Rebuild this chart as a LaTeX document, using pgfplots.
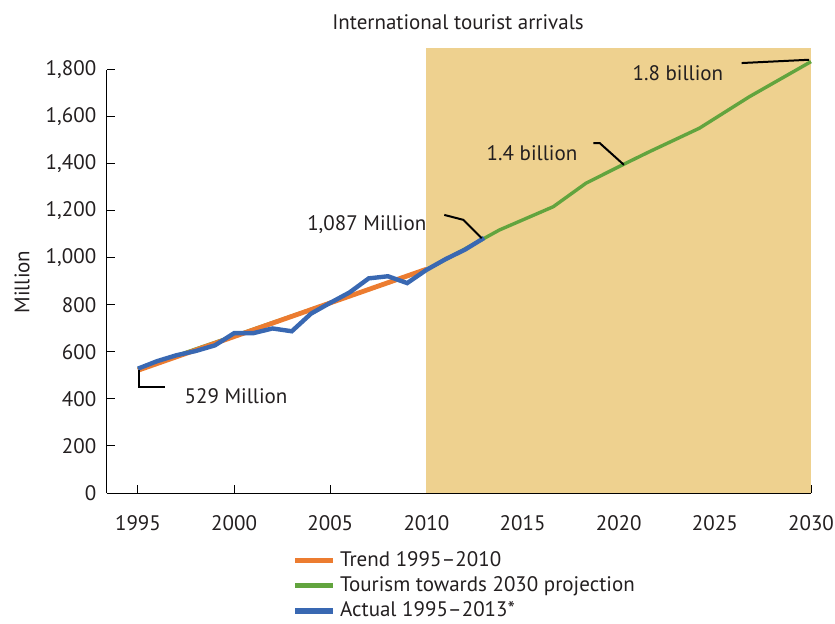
\documentclass[border=0pt]{standalone}
\usepackage{fontspec}
\setmainfont{PT Sans}
\usepackage{pgfplots}
\pgfplotsset{compat=1.18}
\definecolor{tanc}{RGB}{238,209,143}
\definecolor{orangec}{RGB}{236,124,48}
\definecolor{greenc}{RGB}{98,164,62}
\definecolor{bluec}{RGB}{57,104,178}
\definecolor{txt}{RGB}{35,31,32}
\begin{document}
\fontsize{10.5}{12.6}\selectfont
\begin{tikzpicture}[every node/.style={text=txt}]
\begin{axis}[
  scale only axis,
  width=352pt, height=222.5pt,
  xmin=1993.39, xmax=2030, ymin=0, ymax=1893,
  clip=false,
  axis line style={draw=none},
  xtick={1995,2000,...,2030},
  ytick={0,200,...,1800},
  xtick pos=bottom, ytick pos=left,
  tick align=inside,
  major tick length=4pt,
  tick style={black, line width=0.5pt},
  /pgf/number format/assume math mode=true,
  yticklabel style={/pgf/number format/1000 sep={,}, xshift=-1.7pt, font=\fontsize{10.5}{12.6}\selectfont},
  xticklabel style={/pgf/number format/1000 sep={}, yshift=-7.5pt, font=\fontsize{10.5}{12.6}\selectfont},
  legend style={draw=none, fill=none, at={(axis description cs:0.263,-0.121)}, anchor=north west, inner sep=0pt, row sep=-0.4pt, font=\fontsize{10.5}{12.6}\selectfont},
  legend cell align=left,
  legend image code/.code={\draw[#1] (0pt,0pt) -- (19pt,0pt);},
]
\addlegendimage{orangec, line width=2.8pt}
\addlegendentry{Trend 1995--2010}
\addlegendimage{greenc, line width=2.8pt}
\addlegendentry{Tourism towards 2030 projection}
\addlegendimage{bluec, line width=2.8pt}
\addlegendentry{Actual 1995--2013*}

\addplot[draw=none, fill=tanc, forget plot] coordinates {(2010,0) (2010,1893) (2030,1893) (2030,0)} -- cycle;

\addplot[greenc, line width=1.7pt, forget plot] coordinates {
(1995,528) (2010,950) (2011.6,1020) (2013.8,1119) (2016.6,1218) (2018.3,1318)
(2020.2,1396) (2021.6,1452) (2024.2,1552) (2026.8,1686) (2030,1835)};

\addplot[orangec, line width=2.4pt, forget plot] coordinates {(1995,522) (2010,952)};

\addplot[bluec, line width=2.2pt, forget plot] coordinates {
(1995,529) (1996,561) (1997,586) (1998,604) (1999,628) (2000,680) (2001,680)
(2002,700) (2003,688) (2004,763) (2005,809) (2006,853) (2007,913) (2008,922)
(2009,893) (2010,949) (2011,995) (2012,1035) (2013,1085)};

% axis lines
\draw[black, line width=0.5pt] (axis cs:1993.39,0) -- (axis cs:1993.39,1800);
\draw[black, line width=0.5pt] (axis cs:1993.39,0) -- (axis cs:2030,0);

% leader lines
\draw[black, line width=1pt] (axis cs:1995.07,523) -- (axis cs:1995.07,452) -- (axis cs:1996.4,452);
\draw[black, line width=1pt] (axis cs:2010.93,1183) -- (axis cs:2011.92,1162) -- (axis cs:2012.87,1084);
\draw[black, line width=1pt] (axis cs:2018.68,1488) -- (axis cs:2019.02,1488) -- (axis cs:2020.27,1396);
\draw[black, line width=1pt] (axis cs:2026.39,1829) -- (axis cs:2029.9,1843);

\node at (axis cs:2000.1,413) {529 Million};
\node at (axis cs:2006.9,1140) {1,087 Million};
\node at (axis cs:2015.49,1447) {1.4 billion};
\node at (axis cs:2023.08,1787) {1.8 billion};
\end{axis}
\node at (175.5pt,235.5pt) {International tourist arrivals};
\node[rotate=90] at (-42.5pt,105.5pt) {Million};
\pgfresetboundingbox
\path[use as bounding box] (-53.5pt,-65pt) rectangle (364pt,246.5pt);
\end{tikzpicture}
\end{document}
